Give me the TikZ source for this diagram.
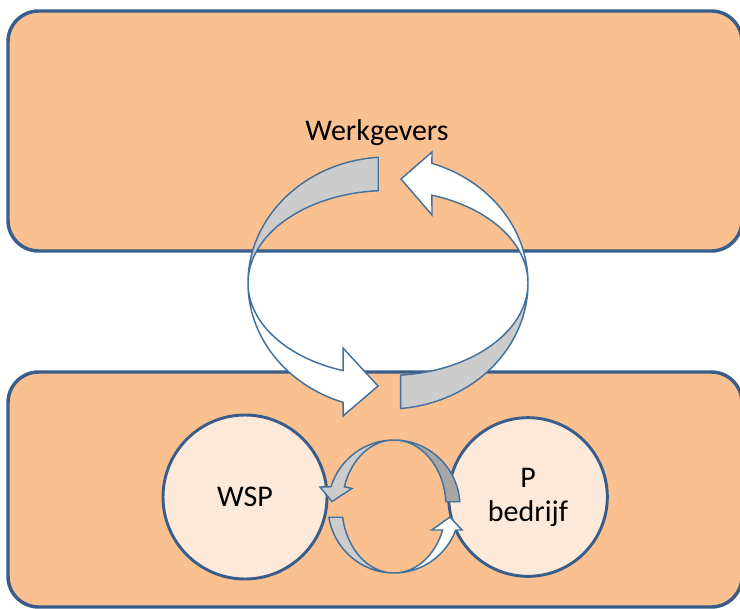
\documentclass[tikz,border=0pt]{standalone}
\usepackage{fontspec}
\setmainfont{Carlito}
\definecolor{boxfill}{RGB}{250,192,144}
\definecolor{boxline}{RGB}{56,93,138}
\definecolor{circfill}{RGB}{253,233,217}
\definecolor{bandline}{RGB}{65,113,156}
\definecolor{bandgray}{RGB}{204,204,204}
\definecolor{banddark}{RGB}{166,166,166}
\tikzset{
  sector/.style={
    draw=boxline,
    line width=2.6pt,
    fill=boxfill,
    rounded corners=23pt
  },
  party/.style={
    circle,
    draw=boxline,
    line width=2.2pt,
    fill=circfill,
    inner sep=0pt,
    align=center,
    font=\fontsize{22.5}{25.5}\selectfont
  }
}
\tikzset{
  band/.style={draw=bandline, line width=1.1pt},
  backband/.style={band, fill=bandgray},
  darkband/.style={band, fill=banddark},
  frontband/.style={band, fill=white}
}

\begin{document}
\begin{tikzpicture}[x=0.75pt,y=-0.75pt]
\useasboundingbox (0,0) rectangle (740,608);

\draw[sector] (8,11) rectangle (742,251);
\draw[sector] (8,372) rectangle (742,607);

\node[font=\fontsize{22.5}{25.5}\selectfont] (werkgevers) at (377,133) {Werkgevers};
\node[party, minimum size=123pt] (wsp) at (245,497) {WSP};
\node[party, minimum size=119pt] (pbedrijf) at (528,497) {P\\bedrijf};

% big loop
\begin{scope}[shift={(388,283)}]
  \draw[backband] (266:140 and 126)
    arc[start angle=266, end angle=180, x radius=140, y radius=126]
    arc[start angle=180, end angle=266, x radius=140, y radius=92.5] -- cycle;
  \draw[backband] (84.8:140 and 126)
    arc[start angle=84.8, end angle=0, x radius=140, y radius=126]
    arc[start angle=0, end angle=84.8, x radius=140, y radius=92.5] -- cycle;
  \draw[frontband] (180:140 and 126)
    arc[start angle=180, end angle=108.7, x radius=140, y radius=126]
    -- (-45,133) -- (-10,103) -- (-45,65) -- (108.7:140 and 92.5)
    arc[start angle=108.7, end angle=180, x radius=140, y radius=92.5] -- cycle;
  \draw[frontband] (0:140 and 126)
    arc[start angle=0, end angle=-71.7, x radius=140, y radius=126]
    -- (44,-131) -- (13,-104) -- (44,-68) -- (-71.7:140 and 92.5)
    arc[start angle=-71.7, end angle=0, x radius=140, y radius=92.5] -- cycle;
\end{scope}

% small loop
\begin{scope}[shift={(394,506.5)}]
  \draw[backband] (270:66 and 66.5)
    arc[start angle=270, end angle=197.3, x radius=66, y radius=66.5]
    -- (-74,-19.5) -- (-62,-5) -- (-42,-18) -- (197.3:52 and 66.5)
    arc[start angle=197.3, end angle=270, x radius=52, y radius=66.5] -- cycle;
  \draw[backband] (170.7:66 and 66.5)
    arc[start angle=170.7, end angle=90, x radius=66, y radius=66.5]
    arc[start angle=90, end angle=170.7, x radius=52, y radius=66.5] -- cycle;
  \draw[darkband] (270:66 and 66.5)
    arc[start angle=270, end angle=355.9, x radius=66, y radius=66.5]
    -- (355.9:52 and 66.5)
    arc[start angle=355.9, end angle=270, x radius=52, y radius=66.5] -- cycle;
  \draw[frontband] (90:66 and 66.5)
    arc[start angle=90, end angle=20.7, x radius=66, y radius=66.5]
    -- (68,23.5) -- (56,10.5) -- (37.7,23.5) -- (20.7:52 and 66.5)
    arc[start angle=20.7, end angle=90, x radius=52, y radius=66.5] -- cycle;
\end{scope}
\end{tikzpicture}
\end{document}
